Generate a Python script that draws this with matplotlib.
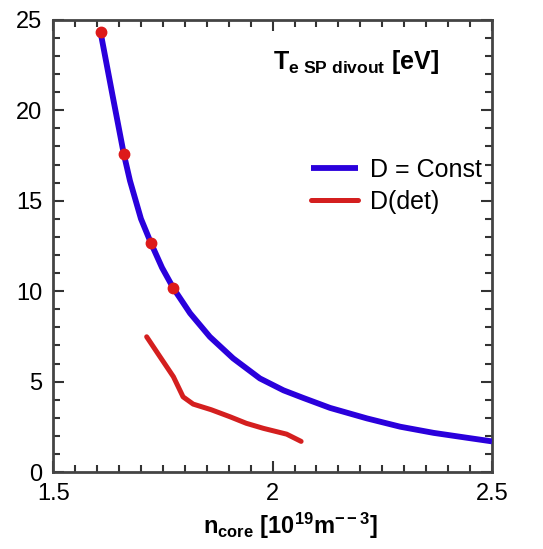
import matplotlib
matplotlib.use("Agg")
from matplotlib import pyplot
from matplotlib.ticker import MultipleLocator

pyplot.rcParams['font.family'] = ['Liberation Sans', 'DejaVu Sans']
pyplot.rcParams['mathtext.fontset'] = 'custom'
pyplot.rcParams['mathtext.rm'] = 'Liberation Sans'
pyplot.rcParams['mathtext.bf'] = 'Liberation Sans:bold'
pyplot.rcParams['mathtext.it'] = 'Liberation Sans:italic'

# D = Const curve
n_const = [1.608, 1.635, 1.661, 1.675, 1.700, 1.723, 1.748, 1.774, 1.812, 1.857,
           1.910, 1.971, 2.025, 2.070, 2.131, 2.215, 2.291, 2.367, 2.443, 2.500]
te_const = [24.3, 20.85, 17.57, 16.1, 14.0, 12.65, 11.3, 10.16, 8.78, 7.48,
            6.29, 5.18, 4.52, 4.1, 3.55, 2.97, 2.51, 2.17, 1.90, 1.70]

# simulated points on the D = Const curve
n_pts = [1.608, 1.661, 1.723, 1.774]
te_pts = [24.3, 17.57, 12.65, 10.16]

# D(det) curve
n_det = [1.713, 1.74, 1.774, 1.796, 1.819, 1.86, 1.903, 1.94, 1.979, 2.032, 2.065]
te_det = [7.48, 6.5, 5.27, 4.16, 3.76, 3.45, 3.06, 2.7, 2.42, 2.10, 1.70]

fig = pyplot.figure(figsize=(5.43, 5.49), dpi=100)
ax = fig.add_axes([0.098, 0.14, 0.808, 0.824])

ax.plot(n_const, te_const, color='#2a00dc', lw=4.2, label='D = Const',
        solid_capstyle='butt', solid_joinstyle='round', zorder=3)
ax.plot(n_det, te_det, color='#d41f1f', lw=3.6, label='D(det)',
        solid_capstyle='round', solid_joinstyle='round', zorder=3)
ax.plot(n_pts, te_pts, 'o', color='#dd1a1a', ms=7.5, zorder=4)

ax.set_xlim(1.5, 2.5)
ax.set_ylim(0, 25)
ax.xaxis.set_major_locator(MultipleLocator(0.5))
ax.xaxis.set_minor_locator(MultipleLocator(0.05))
ax.yaxis.set_major_locator(MultipleLocator(5))
ax.yaxis.set_minor_locator(MultipleLocator(1))
ax.xaxis.set_major_formatter(matplotlib.ticker.FuncFormatter(lambda v, p: f'{v:g}'))

ax.tick_params(which='both', direction='in', top=True, right=True,
               color='#333333', width=1.5)
ax.tick_params(which='major', length=8, labelsize=17, pad=8)
ax.tick_params(which='minor', length=5)
for s in ax.spines.values():
    s.set_linewidth(2)
    s.set_color('#444444')

ax.set_xlabel(r'$\mathbf{n_{core}\ [10^{19}m^{--3}]}$', fontsize=17)
ax.xaxis.set_label_coords(0.541, -0.085)
ax.text(0.501, 0.907, r'$\mathbf{T_{e\ SP\ divout}\ [eV]}$', transform=ax.transAxes,
        fontsize=18, ha='left', va='center')

ax.legend(loc='upper left', bbox_to_anchor=(0.537, 0.745), frameon=False,
          fontsize=18, handlelength=1.88, handletextpad=0.45, labelspacing=0.33)

fig.savefig('out.png', dpi=100)
